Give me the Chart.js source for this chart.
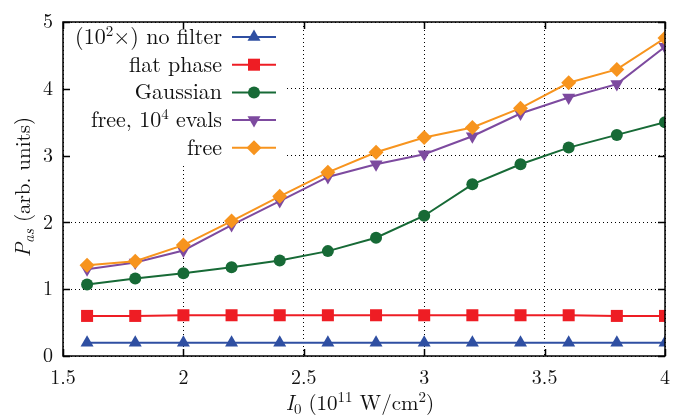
<!DOCTYPE html>
<html>
<head>
<meta charset="utf-8">
<script src="https://cdn.jsdelivr.net/npm/chart.js@4.4.0/dist/chart.umd.min.js"></script>
<style>
  html, body { margin: 0; padding: 0; background: #fff; }
</style>
</head>
<body>
<canvas id="chart" width="682" height="420"></canvas>
<script>
// intensity I0 (10^11 W/cm^2)
const intensity = [1.6, 1.8, 2.0, 2.2, 2.4, 2.6, 2.8, 3.0, 3.2, 3.4, 3.6, 3.8, 4.0];

const noFilter  = [0.2, 0.2, 0.2, 0.2, 0.2, 0.2, 0.2, 0.2, 0.2, 0.2, 0.2, 0.2, 0.2];
const flatPhase = [0.6, 0.6, 0.61, 0.61, 0.61, 0.61, 0.61, 0.61, 0.61, 0.61, 0.61, 0.6, 0.6];
const gaussian  = [1.07, 1.16, 1.24, 1.33, 1.43, 1.57, 1.77, 2.1, 2.57, 2.87, 3.12, 3.31, 3.5];
const free1e4   = [1.3, 1.4, 1.58, 1.96, 2.32, 2.68, 2.87, 3.02, 3.29, 3.63, 3.87, 4.07, 4.63];
const freeOpt   = [1.36, 1.42, 1.66, 2.02, 2.39, 2.75, 3.05, 3.27, 3.42, 3.71, 4.09, 4.29, 4.76];

const seriesLabels = ['(10²×) no filter', 'flat phase', 'Gaussian', 'free, 10⁴ evals', 'free'];
const xTicks = [1.5, 2, 2.5, 3, 3.5, 4];
const yTicks = [0, 1, 2, 3, 4, 5];

const FONT = '"Latin Modern Roman"';
const TEXT = '#111';

function pts(ys) {
  return intensity.map((x, i) => ({ x: x, y: ys[i] }));
}

function makeSet(label, ys, color, style, radius, rotation, order) {
  return {
    label: label,
    data: pts(ys),
    borderColor: color,
    backgroundColor: color,
    borderWidth: 2,
    pointStyle: style,
    pointRadius: radius,
    pointHoverRadius: radius,
    pointRotation: rotation,
    pointBorderWidth: 0,
    pointBackgroundColor: color,
    tension: 0,
    order: order
  };
}

// superscript digits -> small raised text
const supMap = { '²': '2', '⁴': '4' };
function toParts(label) {
  const parts = [];
  let buf = '';
  for (const ch of label) {
    if (supMap[ch]) {
      if (buf) parts.push({ t: buf });
      buf = '';
      parts.push({ t: supMap[ch], sup: true });
    } else {
      buf += ch;
    }
  }
  if (buf) parts.push({ t: buf });
  return parts;
}

function setFont(ctx, p, size) {
  const s = (p.sup || p.sub) ? Math.round(size * 0.7) : size;
  ctx.font = (p.it ? 'italic ' : '') + s + 'px ' + FONT;
}

function richWidth(ctx, parts, size) {
  let w = 0;
  parts.forEach(p => {
    setFont(ctx, p, size);
    w += ctx.measureText(p.t).width;
  });
  return w;
}

function drawRich(ctx, parts, x, y, size) {
  ctx.textBaseline = 'alphabetic';
  ctx.textAlign = 'left';
  let cx = x;
  parts.forEach(p => {
    setFont(ctx, p, size);
    let dy = 0;
    if (p.sup) dy = -size * 0.38;
    if (p.sub) dy = size * 0.18;
    ctx.fillText(p.t, cx, y + dy);
    cx += ctx.measureText(p.t).width;
  });
}

const decorations = {
  id: 'decorations',
  beforeDatasetsDraw(chart) {
    const { ctx, chartArea } = chart;
    // legend background hides the grid
    ctx.save();
    ctx.fillStyle = '#fff';
    ctx.fillRect(chartArea.left + 1, chartArea.top + 1, 285 - chartArea.left, 163 - chartArea.top);
    ctx.restore();
  },
  afterDraw(chart) {
    const { ctx, chartArea } = chart;
    const xs = chart.scales.x, ys = chart.scales.y;
    ctx.save();
    ctx.strokeStyle = '#000';
    ctx.lineWidth = 1.5;
    // inner tick marks
    ctx.beginPath();
    xTicks.forEach(v => {
      const px = Math.round(xs.getPixelForValue(v)) + 0.5;
      ctx.moveTo(px, chartArea.bottom); ctx.lineTo(px, chartArea.bottom - 7);
      ctx.moveTo(px, chartArea.top); ctx.lineTo(px, chartArea.top + 7);
    });
    yTicks.forEach(v => {
      const py = Math.round(ys.getPixelForValue(v)) + 0.5;
      ctx.moveTo(chartArea.left, py); ctx.lineTo(chartArea.left + 7, py);
      ctx.moveTo(chartArea.right, py); ctx.lineTo(chartArea.right - 7, py);
    });
    ctx.stroke();
    // frame
    ctx.strokeRect(chartArea.left, chartArea.top, chartArea.right - chartArea.left, chartArea.bottom - chartArea.top);

    // legend
    chart.data.datasets.forEach((ds, row) => {
      const cy = 37 + row * 27.7;
      const parts = toParts(ds.label);
      const w = richWidth(ctx, parts, 22);
      ctx.fillStyle = TEXT;
      drawRich(ctx, parts, 222 - w, cy + 7, 22);
      ctx.strokeStyle = ds.borderColor;
      ctx.lineWidth = 2;
      ctx.beginPath();
      ctx.moveTo(232, cy); ctx.lineTo(276, cy);
      ctx.stroke();
      ctx.fillStyle = ds.pointBackgroundColor;
      Chart.helpers.drawPoint(ctx, {
        pointStyle: ds.pointStyle, rotation: ds.pointRotation,
        radius: ds.pointRadius, borderWidth: 0
      }, 254, cy);
    });

    // axis titles
    ctx.fillStyle = TEXT;
    const xt = [{ t: 'I', it: true }, { t: '0', sub: true }, { t: ' (10' }, { t: '11', sup: true },
                { t: ' W/cm' }, { t: '2', sup: true }, { t: ')' }];
    const xw = richWidth(ctx, xt, 21);
    drawRich(ctx, xt, 360 - xw / 2, 410, 21);

    const yt = [{ t: 'P', it: true }, { t: 'as', it: true, sub: true }, { t: ' (arb. units)' }];
    const yw = richWidth(ctx, yt, 21);
    ctx.translate(30, 187);
    ctx.rotate(-Math.PI / 2);
    drawRich(ctx, yt, -yw / 2, 0, 21);
    ctx.restore();
  }
};

new Chart(document.getElementById('chart'), {
  type: 'line',
  data: {
    datasets: [
      makeSet(seriesLabels[0], noFilter,  '#2f4fa2', 'triangle', 7.5, 0, 4),
      makeSet(seriesLabels[1], flatPhase, '#ee1d24', 'rect', 8.5, 0, 3),
      makeSet(seriesLabels[2], gaussian,  '#176a36', 'circle', 6, 0, 2),
      makeSet(seriesLabels[3], free1e4,   '#7d4a9f', 'triangle', 7.5, 180, 1),
      makeSet(seriesLabels[4], freeOpt,   '#f7941e', 'rectRot', 7.5, 0, 0)
    ]
  },
  options: {
    responsive: false,
    animation: false,
    events: [],
    layout: { padding: { top: 16, right: 17, left: 0, bottom: 0 } },
    plugins: {
      legend: { display: false },
      tooltip: { enabled: false }
    },
    scales: {
      x: {
        type: 'linear',
        min: 1.5,
        max: 4,
        afterBuildTicks(scale) { scale.ticks = xTicks.map(v => ({ value: v })); },
        afterFit(scale) { scale.height = 64; },
        grid: { color: '#000', lineWidth: 1, drawTicks: false },
        border: { display: false, dash: [1, 3] },
        ticks: {
          padding: 10, color: TEXT, font: { family: FONT, size: 20 },
          callback: v => String(v)
        }
      },
      y: {
        type: 'linear',
        min: 0,
        max: 5,
        afterBuildTicks(scale) { scale.ticks = yTicks.map(v => ({ value: v })); },
        afterFit(scale) { scale.width = 63; },
        grid: { color: '#000', lineWidth: 1, drawTicks: false },
        border: { display: false, dash: [1, 3] },
        ticks: { padding: 10, color: TEXT, font: { family: FONT, size: 20 } }
      }
    }
  },
  plugins: [decorations]
});
</script>
</body>
</html>
